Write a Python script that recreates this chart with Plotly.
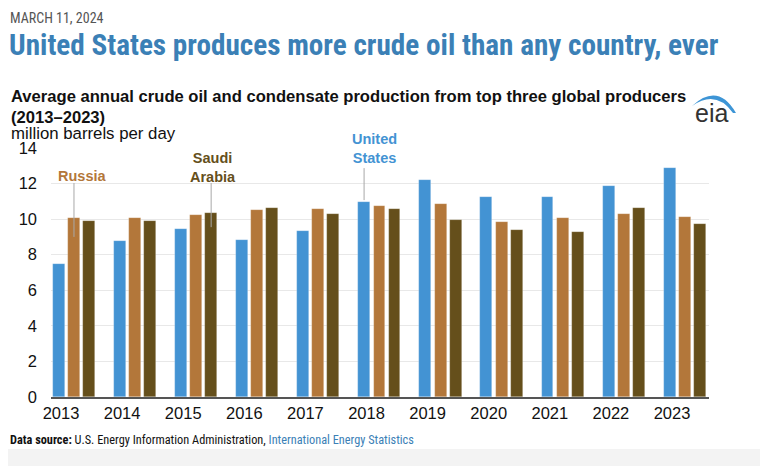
import plotly.graph_objects as go

years = [2013, 2014, 2015, 2016, 2017, 2018, 2019, 2020, 2021, 2022, 2023]
united_states = [7.48, 8.78, 9.43, 8.85, 9.36, 10.97, 12.21, 11.27, 11.24, 11.88, 12.90]
russia = [10.05, 10.09, 10.24, 10.52, 10.58, 10.75, 10.84, 9.85, 10.09, 10.30, 10.11]
saudi_arabia = [9.87, 9.90, 10.34, 10.62, 10.28, 10.56, 9.96, 9.40, 9.30, 10.62, 9.72]
y_ticks = [0, 2, 4, 6, 8, 10, 12, 14]

C_US = "#4393d3"
C_RU = "#b3773a"
C_SA = "#654f1b"
C_TITLE = "#3b80b6"

# the page body has an 8px margin; the figure is laid out in window pixels
OFF = 8
W, H = 768 - OFF, 466 - OFF
ML, MR, MT, MB = 51 - OFF, 59, 148 - OFF, 69
PW, PH = W - ML - MR, H - MT - MB


def px(x):
    return (x - OFF - ML) / PW


def py(y):
    return (H - MB - (y - OFF)) / PH


BW = 0.195
fig = go.Figure()
for name, vals, col, off in [
    ("United States", united_states, C_US, -0.136),
    ("Russia", russia, C_RU, 0.115),
    ("Saudi Arabia", saudi_arabia, C_SA, 0.36),
]:
    fig.add_trace(go.Bar(
        x=years, y=vals, name=name, width=BW, offset=off,
        marker=dict(color=col, line=dict(color="rgba(255,255,255,0.35)", width=0.6)),
        showlegend=False,
    ))

FN = "Liberation Sans"
FNN = "Liberation Sans Narrow, Roboto Condensed, Liberation Sans"

ann = []
ann.append(dict(text="MARCH 11, 2024", x=px(8), y=py(18), xref="paper", yref="paper",
                xanchor="left", yanchor="middle", showarrow=False,
                font=dict(family=FNN, size=14, color="#555555")))
ann.append(dict(text="<b>United States produces more crude oil than any country, ever</b>",
                x=px(7), y=py(45), xref="paper", yref="paper",
                xanchor="left", yanchor="middle", showarrow=False,
                font=dict(family=FNN, size=29.2, color=C_TITLE)))
ann.append(dict(text="<b>Average annual crude oil and condensate production from top three global producers</b>",
                x=px(9), y=py(97), xref="paper", yref="paper",
                xanchor="left", yanchor="middle", showarrow=False,
                font=dict(family=FN, size=16.6, color="#111111")))
ann.append(dict(text="<b>(2013–2023)</b>",
                x=px(9), y=py(117), xref="paper", yref="paper",
                xanchor="left", yanchor="middle", showarrow=False,
                font=dict(family=FN, size=16.6, color="#111111")))
ann.append(dict(text="million barrels per day",
                x=px(9), y=py(134), xref="paper", yref="paper",
                xanchor="left", yanchor="middle", showarrow=False,
                font=dict(family=FN, size=16.8, color="#111111")))
ann.append(dict(text="eia", x=px(712), y=py(113), xref="paper", yref="paper",
                xanchor="center", yanchor="middle", showarrow=False,
                font=dict(family=FN, size=25, color="#333333")))
ann.append(dict(text="<b>Data source:</b> U.S. Energy Information Administration, "
                     "<span style='color:#3b80b6'>International Energy Statistics</span>",
                x=px(8), y=py(440), xref="paper", yref="paper",
                xanchor="left", yanchor="middle", showarrow=False,
                font=dict(family=FNN, size=12.3, color="#111111")))
ann.append(dict(text="<b>Russia</b>", x=2013.34, y=12.45, xref="x", yref="y",
                showarrow=False, font=dict(family=FN, size=14.5, color=C_RU)))
ann.append(dict(text="<b>Saudi<br>Arabia</b>", x=2015.49, y=12.93, xref="x", yref="y",
                showarrow=False, font=dict(family=FN, size=14.5, color=C_SA)))
ann.append(dict(text="<b>United<br>States</b>", x=2018.13, y=13.95, xref="x", yref="y",
                showarrow=False, font=dict(family=FN, size=14.5, color=C_US)))

shapes = []
for x0, y0, y1 in [(2013.212, 12.03, 9.0), (2015.457, 12.03, 9.55), (2017.96, 12.87, 11.07)]:
    shapes.append(dict(type="line", xref="x", yref="y", x0=x0, x1=x0, y0=y0, y1=y1,
                       line=dict(color="#a8a8a8", width=1)))


def P(x, y):
    return f"{px(x):.5f},{py(y):.5f}"


swoosh = (f"M {P(692,106)} Q {P(718,82)} {P(736,113)} L {P(733,113)} "
          f"Q {P(716,89)} {P(692,106)} Z")
shapes.append(dict(type="path", xref="paper", yref="paper", path=swoosh,
                   fillcolor="#3d95d6", line=dict(width=0)))
shapes.append(dict(type="rect", xref="paper", yref="paper", x0=px(0), x1=px(780),
                   y0=py(480), y1=py(449), fillcolor="#f3f3f3", line=dict(width=0),
                   layer="below"))

fig.update_layout(
    width=W, height=H,
    margin=dict(l=ML, r=MR, t=MT, b=MB, pad=0),
    paper_bgcolor="white", plot_bgcolor="white",
    annotations=ann, shapes=shapes,
    xaxis=dict(range=[2012.836, 2023.605], tickvals=years, ticktext=[str(y) for y in years],
               showgrid=False, showline=True, linecolor="#555555", linewidth=1.5,
               ticks="", zeroline=False,
               tickfont=dict(family=FN, size=16.5, color="#111111")),
    yaxis=dict(range=[0, 14], tickvals=y_ticks, showgrid=True, gridcolor="#e8e8e8",
               gridwidth=1, zeroline=False, ticks="", ticklabelstandoff=13,
               tickfont=dict(family=FN, size=16.5, color="#111111")),
    bargap=0,
)

fig.write_html("out.html")
